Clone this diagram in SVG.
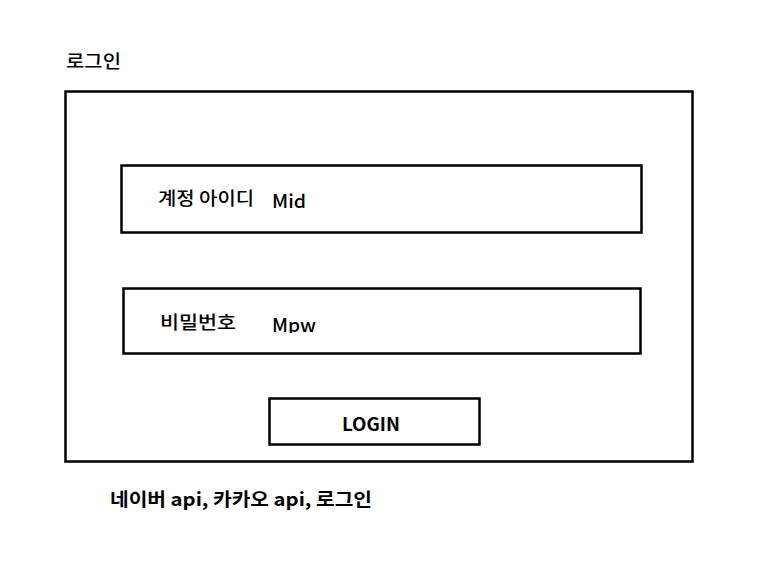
<svg xmlns="http://www.w3.org/2000/svg" width="764" height="561" viewBox="0 0 764 561">
<style>
.box{fill:#fff;stroke:#000;stroke-width:2.5}
.t{font-family:"Noto Sans CJK KR","Noto Sans",sans-serif;font-size:18px;fill:#000;font-weight:500}
.b{font-weight:bold}
</style>
<defs><clipPath id="cp"><rect x="260" y="300" width="80" height="33"/></clipPath></defs>
<rect width="764" height="561" fill="#fff"/>
<text class="t" x="66" y="68" textLength="55" lengthAdjust="spacingAndGlyphs">로그인</text>
<g id="frame"><rect class="box" x="65.5" y="91.5" width="627" height="370"/></g>
<g id="id-field"><rect class="box" x="121.5" y="165.5" width="520" height="67"/>
<text class="t" x="158" y="205" textLength="96" lengthAdjust="spacingAndGlyphs">계정 아이디</text><text class="t" x="272" y="208" textLength="34" lengthAdjust="spacingAndGlyphs">Mid</text></g>
<g id="pw-field"><rect class="box" x="123.5" y="288.5" width="517" height="65"/>
<text class="t" x="160" y="329" textLength="76" lengthAdjust="spacingAndGlyphs">비밀번호</text><text class="t" x="272" y="332" clip-path="url(#cp)" textLength="44" lengthAdjust="spacingAndGlyphs">Mpw</text></g>
<g id="login-btn"><rect class="box" x="269.5" y="398.5" width="210" height="46"/>
<text class="t b" x="342" y="431" textLength="58" lengthAdjust="spacingAndGlyphs">LOGIN</text></g>
<g id="connectors"/>
<text class="t b" x="110" y="506" textLength="262" lengthAdjust="spacingAndGlyphs">네이버 api, 카카오 api, 로그인</text>
</svg>
